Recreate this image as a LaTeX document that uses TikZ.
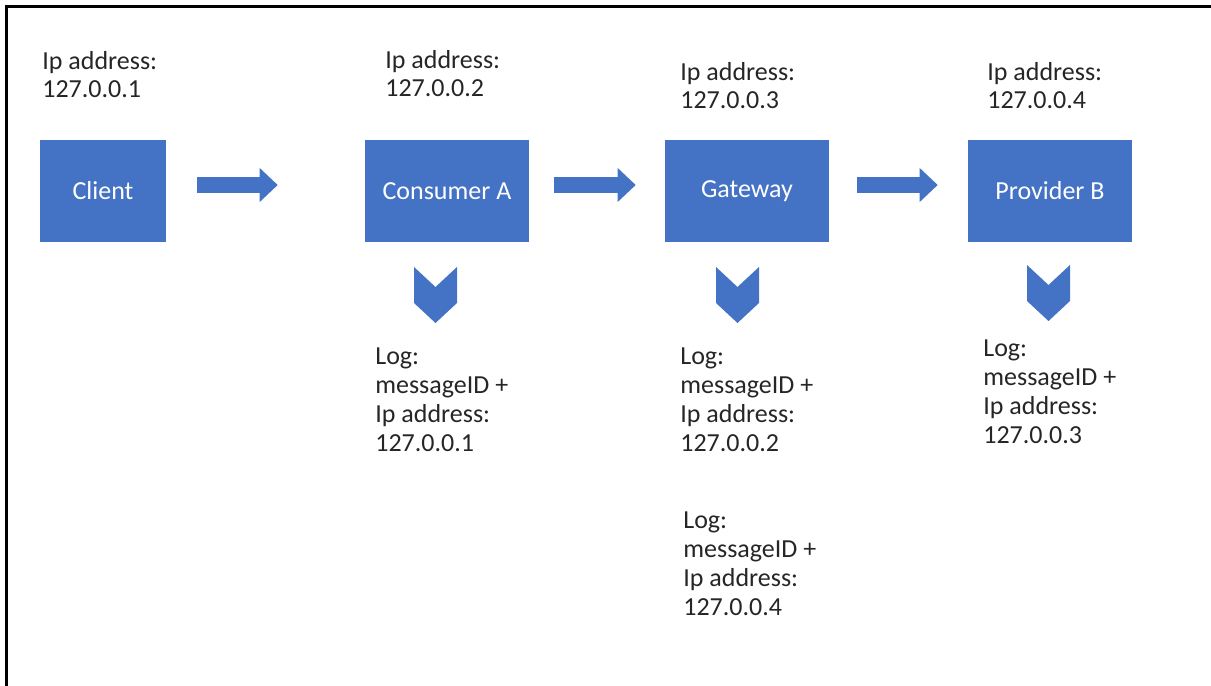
\documentclass[tikz,border=0pt]{standalone}
\usepackage{fontspec}
\setmainfont{Carlito}
\usepackage{xcolor}
\usetikzlibrary{arrows.meta, positioning}
\definecolor{boxblue}{HTML}{4472C4}

\begin{document}
\begin{tikzpicture}[x=0.02cm, y=-0.02cm,
    every node/.style={font=\fontsize{14.8}{16.5}\selectfont, text=black!85},
    unit/.style={fill=boxblue, text=white, minimum height=2.04cm, inner sep=0pt},
    info/.style={anchor=north west, align=left, inner sep=0pt},
    flow/.style={draw=boxblue, line width=0.32cm, -{Triangle[length=0.36cm, width=0.68cm, line width=0pt]}},
    chev/.style={fill=boxblue}]
                        \useasboundingbox (0,0) rectangle (1211,686);
                        \draw[line width=0.06cm] (6.5,686) -- (6.5,6.5) -- (1211,6.5);

                        \node[unit, minimum width=2.52cm] (client) at (103, 191) {Client};
                        \node[unit, minimum width=3.28cm] (consA) at (447, 191) {Consumer A};
                        \node[unit, minimum width=3.28cm] (gw) at (747, 191) {Gateway};
                        \node[unit, minimum width=3.28cm] (provB) at (1050, 191) {Provider B};

                        \node[info, font=\fontsize{14.8}{15.9}\selectfont] (clientip) at (42, 51) {Ip address:\\127.0.0.1};
                        \node[info, font=\fontsize{14.8}{15.9}\selectfont] (consAip) at (385, 50) {Ip address:\\127.0.0.2};
                        \node[info, font=\fontsize{14.8}{15.9}\selectfont] (gwip) at (680, 62) {Ip address:\\127.0.0.3};
                        \node[info, font=\fontsize{14.8}{15.9}\selectfont] (provBip) at (987, 62) {Ip address:\\127.0.0.4};

                        \node[info] (consAlog) at (375, 347) {Log:\\messageID +\\Ip address:\\127.0.0.1};
                        \node[info] (gwlog) at (680, 347) {Log:\\messageID +\\Ip address:\\127.0.0.2};
                        \node[info] (gwlog2) at (683, 511) {Log:\\messageID +\\Ip address:\\127.0.0.4};
                        \node[info] (provBlog) at (983, 339) {Log:\\messageID +\\Ip address:\\127.0.0.3};

                        \draw
                        ([yshift=0.12cm]client.east) edge[flow, shorten <=0.62cm, shorten >=1.74cm] ([yshift=0.12cm]consA.west)
                        ([yshift=0.12cm]consA.east) edge[flow, shorten <=0.5cm, shorten >=0.58cm] ([yshift=0.12cm]gw.west)
                        ([yshift=0.12cm]gw.east) edge[flow, shorten <=0.56cm, shorten >=0.6cm] ([yshift=0.12cm]provB.west);

                        \fill[chev] (414,267) -- ++(21.5,20) -- ++(21.5,-20) -- ++(0,36) -- ++(-21.5,20) -- ++(-21.5,-20) -- cycle;
                        \fill[chev] (716,267) -- ++(21.5,20) -- ++(21.5,-20) -- ++(0,36) -- ++(-21.5,20) -- ++(-21.5,-20) -- cycle;
                        \fill[chev] (1027,265) -- ++(21.5,20) -- ++(21.5,-20) -- ++(0,36) -- ++(-21.5,20) -- ++(-21.5,-20) -- cycle;
                    \end{tikzpicture}
\end{document}
